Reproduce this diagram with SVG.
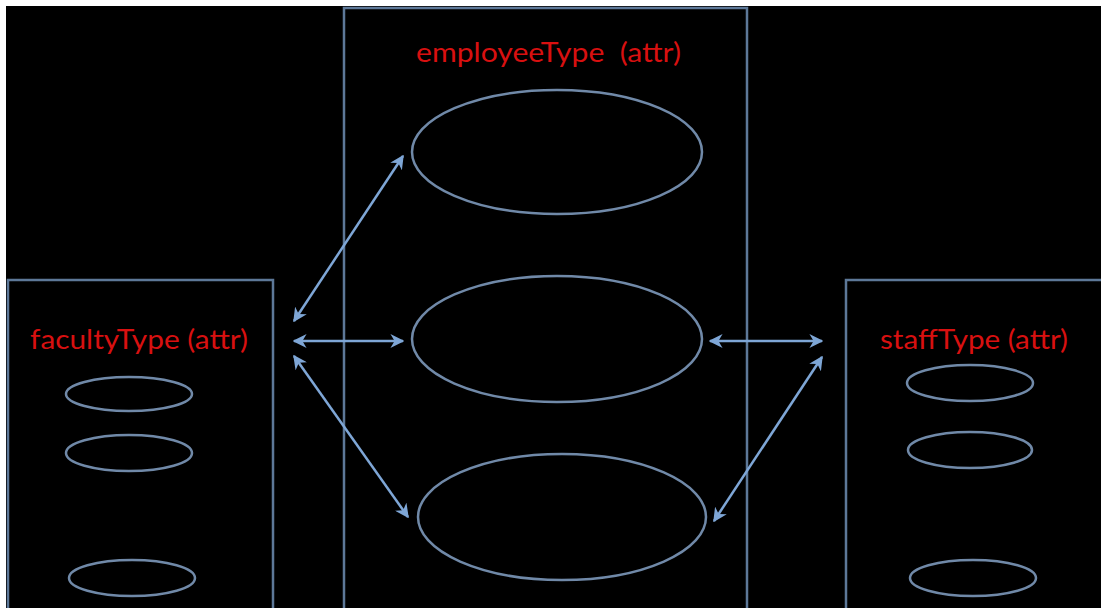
<svg xmlns="http://www.w3.org/2000/svg" width="1101" height="608" viewBox="0 0 1101 608">
<defs>
<style>
.box{fill:none;stroke:#5d7898;stroke-width:2.5}
.ell{fill:none;stroke:#7089a8;stroke-width:2.5}
.lbl{fill:#d81010;font-family:Lato,"Open Sans",sans-serif;font-size:26px;white-space:pre}
.con{stroke:#7ea6d6;stroke-width:2.5;fill:none;marker-start:url(#ah);marker-end:url(#ah)}
</style>
<marker id="ah" viewBox="0 0 10 10" refX="9" refY="5" markerWidth="14" markerHeight="14" orient="auto-start-reverse" markerUnits="userSpaceOnUse">
<path d="M0,0 L10,5 L0,10 L3,5 Z" fill="#7ea6d6"/>
</marker>
</defs>
<rect x="0" y="0" width="1101" height="608" fill="#ffffff"/>
<rect x="6" y="6" width="1095" height="602" fill="#000000"/>
<g id="employeeType">
<rect class="box" x="344" y="8" width="403" height="610"/>
<text class="lbl" x="416" y="62" textLength="265" lengthAdjust="spacingAndGlyphs" xml:space="preserve">employeeType  (attr)</text>
<ellipse class="ell" cx="557" cy="152" rx="145" ry="62"/>
<ellipse class="ell" cx="557" cy="339" rx="145" ry="63"/>
<ellipse class="ell" cx="562" cy="517" rx="144" ry="63"/>
</g>
<g id="facultyType">
<rect class="box" x="8" y="280" width="265" height="338"/>
<text class="lbl" x="30" y="349" textLength="218" lengthAdjust="spacingAndGlyphs">facultyType (attr)</text>
<ellipse class="ell" cx="129" cy="394" rx="63" ry="17"/>
<ellipse class="ell" cx="129" cy="453" rx="63" ry="18"/>
<ellipse class="ell" cx="132" cy="578" rx="63" ry="18"/>
</g>
<g id="staffType">
<rect class="box" x="846" y="280" width="265" height="338"/>
<text class="lbl" x="880" y="349" textLength="188" lengthAdjust="spacingAndGlyphs">staffType (attr)</text>
<ellipse class="ell" cx="970" cy="383" rx="63" ry="18"/>
<ellipse class="ell" cx="970" cy="450" rx="62" ry="18"/>
<ellipse class="ell" cx="973" cy="578" rx="63" ry="18"/>
</g>
<g id="connectors">
<line class="con" x1="294" y1="321" x2="403" y2="156"/>
<line class="con" x1="294" y1="341" x2="403" y2="341"/>
<line class="con" x1="294" y1="356" x2="408" y2="517"/>
<line class="con" x1="710" y1="341" x2="822" y2="341"/>
<line class="con" x1="822" y1="357" x2="714" y2="521"/>
</g>
</svg>
